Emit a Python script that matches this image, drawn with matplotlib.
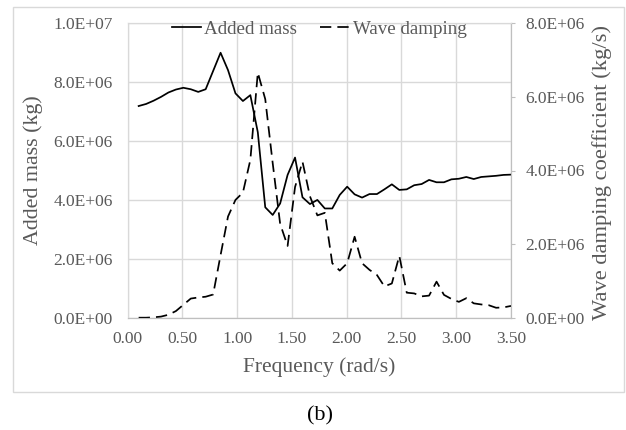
import numpy as np
import matplotlib
matplotlib.use('Agg')
import matplotlib.pyplot as plt
from matplotlib.patches import Rectangle
from matplotlib.ticker import FuncFormatter, MultipleLocator

plt.rcParams['font.family'] = ['Liberation Serif', 'DejaVu Serif']

# Frequency (rad/s)
freq = [0.100, 0.168, 0.236, 0.304, 0.372, 0.440, 0.508, 0.576, 0.644, 0.712,
        0.780, 0.848, 0.916, 0.984, 1.052, 1.120, 1.188, 1.256, 1.324, 1.392,
        1.460, 1.528, 1.596, 1.664, 1.732, 1.800, 1.868, 1.936, 2.004, 2.072,
        2.140, 2.208, 2.276, 2.344, 2.412, 2.480, 2.548, 2.616, 2.684, 2.752,
        2.820, 2.888, 2.956, 3.024, 3.092, 3.160, 3.228, 3.296, 3.364, 3.432,
        3.500]

# Added mass (x1e6 kg)
added_mass = [7.19, 7.26, 7.37, 7.50, 7.65, 7.75, 7.81, 7.76, 7.67, 7.76,
              8.38, 9.00, 8.41, 7.62, 7.36, 7.56, 6.30, 3.75, 3.49, 3.88,
              4.85, 5.44, 4.09, 3.86, 4.00, 3.71, 3.71, 4.17, 4.45, 4.19,
              4.08, 4.20, 4.20, 4.36, 4.53, 4.34, 4.36, 4.50, 4.54, 4.68,
              4.60, 4.60, 4.70, 4.72, 4.78, 4.71, 4.78, 4.80, 4.82, 4.85,
              4.86]

# Wave damping coefficient (x1e6 kg/s)
damping = [0.00, 0.00, 0.01, 0.03, 0.08, 0.18, 0.35, 0.52, 0.55, 0.57,
           0.63, 1.70, 2.75, 3.20, 3.40, 4.29, 6.66, 5.94, 4.20, 2.55,
           1.95, 3.55, 4.24, 3.30, 2.78, 2.85, 1.48, 1.28, 1.48, 2.20,
           1.48, 1.30, 1.16, 0.85, 0.93, 1.68, 0.68, 0.66, 0.58, 0.60,
           0.98, 0.62, 0.51, 0.43, 0.53, 0.39, 0.36, 0.34, 0.27, 0.28,
           0.32]

W, H = 626, 430
gray = '#595959'
grid = '#d9d9d9'

fig = plt.figure(figsize=(W / 100, H / 100), dpi=100)
ax = fig.add_axes([127.7 / W, 1 - 317.7 / H, (511 - 127.7) / W, (317.7 - 23.3) / H])
ax2 = ax.twinx()

l1, = ax.plot(freq, np.array(added_mass) * 1e6, color='black', lw=1.25)
l2, = ax2.plot(freq, np.array(damping) * 1e6, color='black', lw=1.25,
               linestyle=(0, (6.5, 3.5)))

ax.set_xlim(0, 3.5)
ax.set_ylim(0, 1e7)
ax2.set_ylim(0, 8e6)
ax.xaxis.set_major_locator(MultipleLocator(0.5))
ax.yaxis.set_major_locator(MultipleLocator(2e6))
ax2.yaxis.set_major_locator(MultipleLocator(2e6))
ax.xaxis.set_major_formatter(FuncFormatter(lambda v, p: '{:.2f}'.format(v)))
sci = FuncFormatter(lambda v, p: '{:.1E}'.format(v))
ax.yaxis.set_major_formatter(sci)
ax2.yaxis.set_major_formatter(sci)

ax.grid(True, color=grid, lw=1)
ax.set_axisbelow(True)

ax.tick_params(axis='x', length=0, pad=9.5, labelsize=12.5, labelcolor=gray)
ax.tick_params(axis='y', length=0, pad=10.6, labelsize=12.5, labelcolor=gray)
ax2.tick_params(axis='y', length=3, width=0.8, color='#bfbfbf', direction='out',
                pad=7.2, labelsize=12.5, labelcolor=gray)

for a in (ax, ax2):
    a.spines['top'].set_color(grid)
    a.spines['left'].set_color(grid)
    a.spines['bottom'].set_color('#bfbfbf')
    a.spines['right'].set_color('#bfbfbf')
    for s in a.spines.values():
        s.set_linewidth(0.8)

ax2.legend([l1, l2], ['Added mass', 'Wave damping'], loc='center',
           bbox_to_anchor=(0.5, 0.98), ncol=2, frameon=False, fontsize=13.7,
           labelcolor=gray, handlelength=1.5, handletextpad=0.2,
           columnspacing=1.2, borderaxespad=0)

fig.text(33 / W, 1 - 170.5 / H, 'Added mass (kg)', rotation=90, ha='center',
         va='center', fontsize=15.8, color=gray)
fig.text(602 / W, 1 - 173 / H, 'Wave damping coefficient (kg/s)', rotation=90,
         ha='center', va='center', fontsize=16.2, color=gray)
fig.text(319.5 / W, 1 - 366.7 / H, 'Frequency (rad/s)', ha='center', va='center',
         fontsize=15.5, color=gray)
fig.text(319.5 / W, 1 - 416 / H, '(b)', ha='center', va='center', fontsize=16,
         color='black')

fig.patches.append(Rectangle((12.7 / W, 1 - 391.5 / H), (624 - 12.7) / W,
                             (391.5 - 7) / H, transform=fig.transFigure,
                             fill=False, edgecolor=grid, lw=1))

fig.savefig('out.png', dpi=100)
